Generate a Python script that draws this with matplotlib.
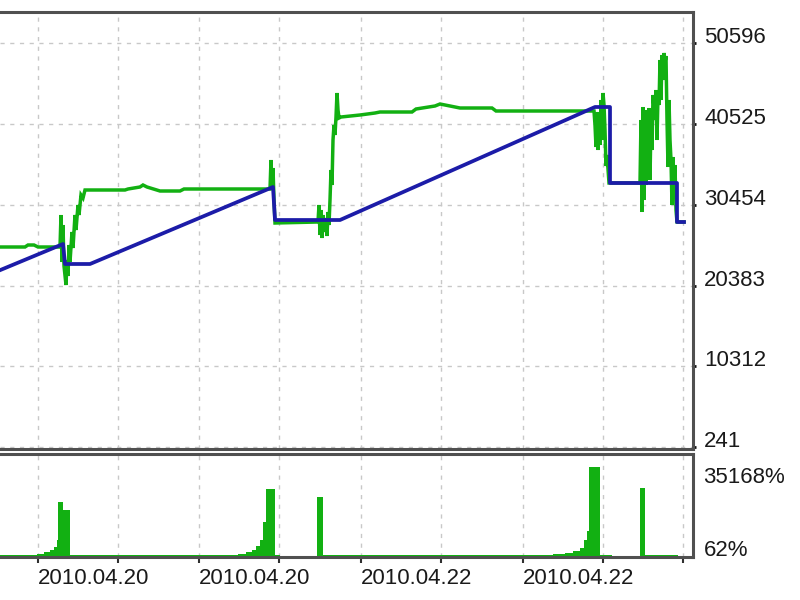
import matplotlib
matplotlib.use('Agg')
import matplotlib.pyplot as plt

# ---- data (x axis = trade number) ----
trade_equity = [-2, 25, 28, 34, 38, 60, 61, 62, 63, 64, 66, 67, 68, 69, 70, 72, 73, 75, 76, 78, 79, 81, 83, 85,
                125, 128, 140, 143, 147, 160, 180, 184, 270, 271, 272, 273, 274, 275,
                318, 319, 320, 321, 322, 323, 324, 326, 327, 328, 329, 330, 331, 332, 333, 334, 335, 336, 337,
                338, 339, 341, 360, 375, 380, 412, 416, 435, 440, 450, 460, 492, 496, 594,
                595, 596, 597, 598, 599, 600, 601, 602, 603, 604, 605, 606, 607, 609, 640,
                641, 642, 643, 644, 645, 646, 647, 648, 649, 650, 651, 652, 653, 655, 656, 657, 658, 659,
                660, 661, 662, 663, 664, 665, 666, 667, 668, 669, 670, 671, 672, 673, 674, 675, 676, 677, 684]
equity = [25185, 25185, 25434, 25434, 25185, 25185, 29176, 23314, 27929, 22815, 20446, 23564, 21568, 25434,
          23314, 27056, 25060, 29176, 27305, 30423, 29176, 31670, 31296, 32294,
          32294, 32419, 32668, 32918, 32668, 32169, 32169, 32419, 32419, 36036, 32294, 35038, 31047, 28178,
          28303, 30423, 26682, 29800, 26307, 29176, 27056, 28802, 26557, 29550, 27929, 31047, 34788, 32918,
          38530, 40401, 39154, 41399, 44392, 42272, 41274, 41399, 41648, 41897, 42022, 42022, 42396, 42771,
          43020, 42771, 42521, 42521, 42147, 42147,
          40401, 37657, 42022, 37283, 41274, 37906, 43519, 38530, 44392, 42895, 39777, 35287, 36659, 33167, 33167,
          41024, 29550, 42646, 31047, 39777, 32918, 42272, 35412, 42521, 33541, 41024, 37283, 44142, 41024,
          44766, 38530, 44142, 42895,
          48508, 43519, 49131, 46013, 49381, 48258, 49007, 41024, 35163, 43519, 38530, 36036, 30423, 36410,
          31670, 35412, 29800, 28303, 28303]

trade_balance = [-2, 63, 65, 90, 273, 275, 340, 595, 610, 610, 677, 677, 684]
balance = [22192, 25559, 23065, 23065, 32668, 28552, 28552, 42646, 42646, 33167, 33167, 28303, 28303]

# drawdown histogram (%), step segments starting at dd_start; None = no bar
dd_start = [0, 37, 44, 50, 54, 57, 58, 63, 70, 238, 246, 252, 256, 260, 263, 266, 275, 280, 317, 323,
            553, 565, 573, 580, 584, 587, 589, 600, 612, 640, 645, 678]
dd_pct = [500, 900, 1600, 2400, 3600, 6400, 21400, 18200, 500, 900, 1600, 2400, 4000, 6400, 13500, 26500,
          500, None, 23300, 500, 900, 1300, 2000, 3200, 6400, 10000, 35168, 500, None, 27000, 500, None]

grid_trades = [38, 118, 199, 279, 361, 441, 523, 603, 683]
date_labels = ['2010.04.20', '', '2010.04.20', '', '2010.04.22', '', '2010.04.22', '', '']
main_ticks = [241, 10312, 20383, 30454, 40525, 50596]
dd_ticks = [62, 35168]
dd_tick_labels = ['62%', '35168%']

GREEN = '#12b012'
BLUE = '#1c1ca8'
FRAME = '#505050'
GRID = '#c8c8c8'
TXT = '#1a1a1a'
FONT = 'Liberation Sans'
FS = 16

fig = plt.figure(figsize=(8, 6), dpi=100)
ax = fig.add_axes([0, 1 - 449 / 600, 693 / 800, (449 - 12) / 600])
ax2 = fig.add_axes([0, 1 - 557 / 600, 693 / 800, (557 - 454) / 600])

# main panel
ax.plot(trade_equity, equity, color=GREEN, lw=2.5, solid_joinstyle='miter', zorder=3)
ax.plot(trade_balance, balance, color=BLUE, lw=2.7, zorder=4)
ax.set_xlim(0, 693)
ax.set_ylim(-8, 54494)
ax.set_xticks(grid_trades)
ax.set_xticklabels([])
ax.tick_params(axis='x', length=0)
ax.yaxis.tick_right()
ax.set_yticks(main_ticks)
ax.set_yticklabels([str(v) for v in main_ticks], fontfamily=FONT, fontsize=FS, color=TXT)
ax.tick_params(axis='y', direction='out', length=2, width=2, color='#101010', pad=6)
for t in ax.get_yticklabels():
    t.set_verticalalignment('baseline')
ax.grid(True, color=GRID, linestyle=(0, (3, 4)), linewidth=1.0)
ax.set_axisbelow(True)

# drawdown panel
for i, v in enumerate(dd_pct):
    if v is None or i + 1 >= len(dd_start):
        continue
    ax2.bar(dd_start[i], v, width=dd_start[i + 1] - dd_start[i], align='edge',
            color=GREEN, linewidth=0, zorder=3)
ax2.set_xlim(0, 693)
ax2.set_ylim(-332, 40291)
ax2.set_xticks(grid_trades)
ax2.set_xticklabels(date_labels, fontfamily=FONT, fontsize=FS, color=TXT)
for t in ax2.get_xticklabels():
    t.set_horizontalalignment('left')
ax2.tick_params(axis='x', direction='out', length=4.3, width=1.5, color='#303030', pad=3.5)
ax2.yaxis.tick_right()
ax2.set_yticks(dd_ticks)
ax2.set_yticklabels(dd_tick_labels, fontfamily=FONT, fontsize=FS, color=TXT)
ax2.tick_params(axis='y', length=0, pad=7.5)
labs = ax2.get_yticklabels()
labs[0].set_verticalalignment('baseline')
labs[1].set_verticalalignment('top')
ax2.grid(True, axis='x', color=GRID, linestyle=(0, (3, 4)), linewidth=1.0)
ax2.set_axisbelow(True)

for a in (ax, ax2):
    a.spines['left'].set_visible(False)
    for s in ('top', 'right', 'bottom'):
        a.spines[s].set_color(FRAME)
        a.spines[s].set_linewidth(2.2)
    a.set_facecolor('white')

fig.savefig('out.png', dpi=100, facecolor='white')
